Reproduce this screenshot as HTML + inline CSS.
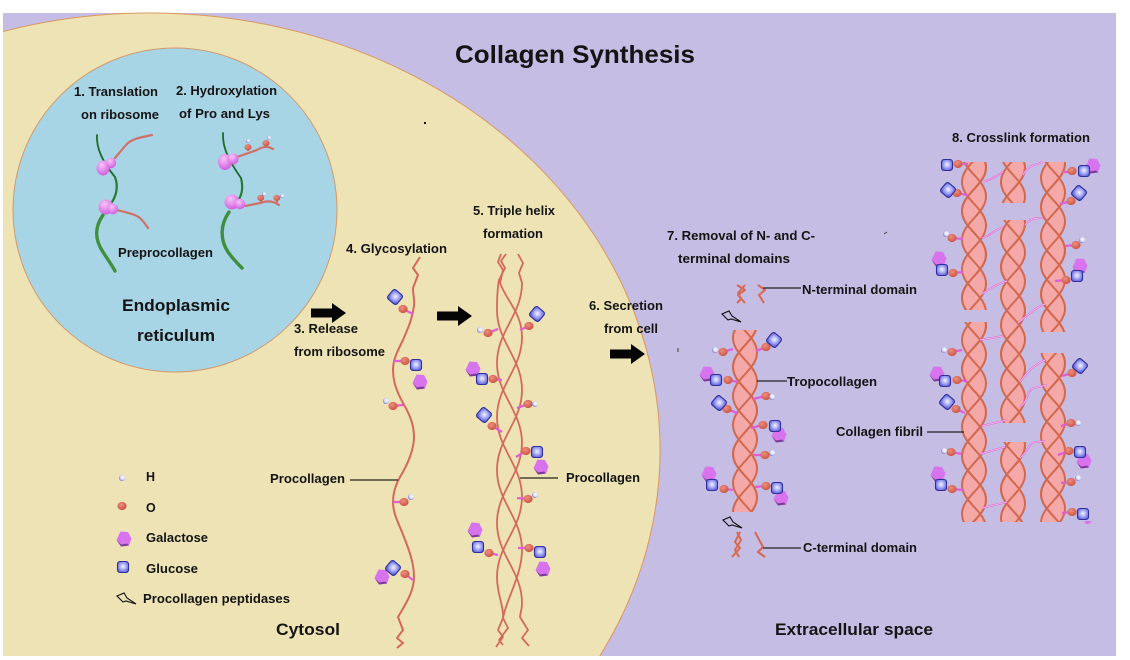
<!DOCTYPE html>
<html><head><meta charset="utf-8"><style>
html,body{margin:0;padding:0;background:#fff;width:1130px;height:660px;overflow:hidden}
svg text{font-family:"Liberation Sans",sans-serif;font-weight:bold;fill:#141414}
</style></head><body>
<svg xmlns="http://www.w3.org/2000/svg" width="1130" height="660" viewBox="0 0 1130 660" style="display:block;filter:blur(.35px)">
<defs>
<radialGradient id="gO" cx=".4" cy=".35" r=".7"><stop offset="0" stop-color="#ee8f80"/><stop offset="1" stop-color="#c9513f"/></radialGradient>
<radialGradient id="gH" cx=".6" cy=".4" r=".6"><stop offset="0" stop-color="#fff"/><stop offset=".6" stop-color="#dcdcf8"/><stop offset="1" stop-color="#7c7cd0"/></radialGradient>
<radialGradient id="gR" cx=".4" cy=".3" r=".8"><stop offset="0" stop-color="#f7c4f7"/><stop offset="1" stop-color="#cc50dc"/></radialGradient>
<radialGradient id="gG" cx=".5" cy=".45" r=".65"><stop offset="0" stop-color="#f5f5ff"/><stop offset=".55" stop-color="#989bf2"/><stop offset="1" stop-color="#4a4ac8"/></radialGradient>
<g id="O"><ellipse rx="4.6" ry="4.1" fill="url(#gO)"/></g>
<g id="H"><circle r="3" fill="url(#gH)"/></g>
<g id="gal"><path d="M-3.5,-7.5 4,-7 7.5,-.5 5,6.5 -3,7.5 -7.5,1z" fill="#d873ee"/><path d="M-7.5,1 -3,7.5 5,6.5 3,4.5 -3,5.5z" fill="#7d3a98"/></g>
<g id="glc"><rect x="-5.5" y="-5.5" width="11" height="11" rx="2.5" fill="url(#gG)" stroke="#30309c" stroke-width="1.1"/></g>
<g id="gld"><rect x="-6" y="-6" width="12" height="12" rx="2.5" fill="url(#gG)" stroke="#30309c" stroke-width="1.1" transform="rotate(40)"/></g>
<path id="st" d="M0,-87c0,17 24,26 24,43.5s-24,26 -24,43.5s24,26 24,43.5s-24,26 -24,43.5s24,26 24,43.5s-24,26 -24,43.5s24,26 24,43.5s-24,26 -24,43.5" fill="none" stroke="#d2684e" stroke-width="2"/>
<pattern id="hp" patternUnits="userSpaceOnUse" x="0" y="0" width="28" height="87">
<g transform="translate(2,0)">
<path d="M6,-14.5q-12,14.5 0,29q-12,14.5 0,29q-12,14.5 0,29q-12,14.5 0,29L18,101.5V87q12,-14.5 0,-29q12,-14.5 0,-29q12,-14.5 0,-29q12,-14.5 0,-29z" fill="#f4a8a8"/>
<use href="#st"/><use href="#st" y="29"/><use href="#st" y="58"/><use href="#st" y="-29"/>
</g>
</pattern>
<g id="pep"><path d="M0,3 7,0 10,5 19,11 9,8 6,9z" fill="none" stroke="#111" stroke-width="1.1"/></g>
<g id="arr"><path d="M0,-4.5H21V-10L35,0 21,10V4.5H0z" fill="#050505"/></g>
<g id="cl" fill="none">
<path d="M983,182C990,180 997,176 1003,172"/>
<path d="M1023,175C1028,165 1035,165 1043,162"/>
<path d="M982,238C990,236 996,229 1003,227"/>
<path d="M1025,225C1030,218 1036,218 1043,218"/>
<path d="M982,294C990,288 998,284 1007,281"/>
<path d="M1018,323C1028,315 1036,307 1045,304"/>
<path d="M980,340L1003,336"/>
<path d="M1020,382C1028,370 1036,364 1045,360"/>
<path d="M1020,407C1028,402 1026,391 1034,388L1047,385"/>
<path d="M982,426L1007,420"/>
<path d="M980,454L1005,447"/>
<path d="M1020,458C1028,452 1028,443 1036,442L1045,441"/>
<path d="M982,508L1007,502"/>
</g>
</defs>

<rect width="1130" height="660" fill="#fff"/>
<rect x="3" y="13" width="1113" height="643" fill="#c5bde3"/>
<path d="M3,31.5A510,437 0 0 1 599.8,656H3z" fill="#ede3b5"/>
<path d="M3,31.5A510,437 0 0 1 599.8,656" fill="none" stroke="#d9975f" stroke-width="1"/>
<circle cx="175" cy="210" r="162" fill="#a8d5e5" stroke="#d19a6a" stroke-width="1"/>

<!-- green strands -->
<g fill="none" stroke="#3f8f3c" stroke-linecap="round">
<path d="M97,135C96,150 105,165 115,177" stroke-width="1.8" stroke="#1f6b2c"/>
<path d="M115,177C119,188 116,197 110,205" stroke-width="2.2" stroke="#2a7a30"/>
<path d="M103,215C94,228 95,240 103,252C108,260 112,265 115,271" stroke-width="3.4"/>
<path d="M223,133C222,150 232,165 241,178" stroke-width="1.8" stroke="#1f6b2c"/>
<path d="M241,178C244,190 241,197 236,204" stroke-width="2.2" stroke="#2a7a30"/>
<path d="M229,212C220,225 220,240 228,252C233,259 238,264 242,268" stroke-width="3.4"/>
</g>
<!-- pink chains ER -->
<g fill="none" stroke="#cf7069" stroke-width="2.2" stroke-linecap="round">
<path d="M115,158C120,152 124,147 128,143C134,138 143,137 152,135"/>
<path d="M117,210C128,213 135,214 140,218C144,222 146,225 148,228"/>
<path d="M237,157L257,150C263,146 268,146 273,149"/>
<path d="M245,206L260,203C266,201 272,200 279,205"/>
<path d="M248,147V150M266,143V147M261,198V203M277,198V202"/>
</g>
<g fill="url(#gR)">
<ellipse cx="103" cy="168" rx="6.5" ry="7.5"/><circle cx="111" cy="163" r="5.2"/>
<circle cx="106" cy="207" r="7.5"/><circle cx="113" cy="209" r="5.2"/>
<ellipse cx="225" cy="162" rx="7" ry="8"/><circle cx="233" cy="159" r="5.5"/>
<circle cx="232" cy="202" r="7.5"/><circle cx="240" cy="204" r="5.2"/>
</g>
<use href="#O" x="248" y="147" transform="translate(62 37) scale(.75)"/>
<use href="#O" x="266" y="143" transform="translate(66.5 36) scale(.75)"/>
<use href="#O" x="261" y="198" transform="translate(65 49.500) scale(.75)"/>
<use href="#O" x="277" y="198" transform="translate(69 49.500) scale(.75)"/>
<g>
<circle cx="248" cy="141" r="2" fill="url(#gH)"/><circle cx="269" cy="138" r="2" fill="url(#gH)"/>
<circle cx="264" cy="194" r="2" fill="url(#gH)"/><circle cx="282" cy="196" r="2" fill="url(#gH)"/>
</g>

<!-- procollagen single -->
<path d="M420,257L413,268 418,275 413,288C413,296 415,300 414,306C412,320 408,328 403,340C397,352 393,360 393,370C393,382 397,392 403,403C410,415 414,425 414,437C414,449 408,464 400,477C396,484 393,493 393,502C393,514 399,524 404,537C409,550 414,563 414,577C414,592 405,605 398,617L403,630 397,638 403,643 397,648" fill="none" stroke="#d4685c" stroke-width="2" stroke-linejoin="round"/>

<!-- triple helix -->
<g fill="none" stroke="#d4685c" stroke-width="1.8" stroke-linejoin="round">
<path d="M518,254L523,263 519,273 522,283C522,315 497,331 497,363C497,395 522,411 522,443C522,475 497,491 497,523C497,555 522,571 522,603C522,610 520,614 520,617L528,630 522,638 529,646"/>
<path d="M506,254L501,261 505,268 499,280C497,290 497,300 497,310C497,342 522,358 522,390C522,422 497,438 497,470C497,502 522,518 522,550C522,575 506,600 503,618L498,630 503,637 496,647"/>
<path d="M501,254L498,262 503,270 500,283C506,300 522,313 522,337C522,369 497,385 497,417C497,449 522,465 522,497C522,529 497,545 497,577C497,595 504,606 503,618L508,628 499,640 503,645"/>
</g>

<!-- fibril & tropocollagen helices -->
<g transform="translate(731,309)"><rect y="21" width="28" height="182" fill="url(#hp)"/></g>
<g transform="translate(960,153)"><rect y="9" width="28" height="148" fill="url(#hp)"/></g>
<g transform="translate(960,311)"><rect y="11" width="28" height="200" fill="url(#hp)"/></g>
<g transform="translate(999,153)"><rect y="9" width="28" height="41" fill="url(#hp)"/></g>
<g transform="translate(999,209)"><rect y="11" width="28" height="203" fill="url(#hp)"/></g>
<g transform="translate(999,431)"><rect y="11" width="28" height="80" fill="url(#hp)"/></g>
<g transform="translate(1039,149)"><rect y="13" width="28" height="170" fill="url(#hp)"/></g>
<g transform="translate(1039,349)"><rect y="4" width="28" height="169" fill="url(#hp)"/></g>

<!-- crosslinks -->
<use href="#cl" stroke="#de62d2" stroke-width="1.8"/>
<use href="#cl" stroke="#f8c4f0" stroke-width=".7"/>

<!-- terminal bits -->
<g fill="none" stroke="#d9684f" stroke-width="2" stroke-linejoin="round">
<path d="M737,285L745,290 738,295 745,303"/><path d="M745,285L738,293 741,299 737,303"/>
<path d="M758,285L765,290 759,295 764,303"/>
<path d="M740,532L735,542 740,548 732,557"/><path d="M737,532L741,540 735,550 739,557"/>
<path d="M755,532L763,547 758,552 765,557"/>
</g>
<use href="#pep" x="722" y="311"/><use href="#pep" x="723" y="517"/><use href="#pep" x="117" y="593"/>

<!-- stems -->
<path d="M413,314L403,309M393,361H405M403,405L393,406M393,502H404M413,580L405,574
M498,329L488,333M520,330L529,326M502,380L493,379M517,408L528,404M502,432L492,426M516,457L526,451M517,498L528,499M498,555L489,553M518,548L529,548
M733,349L723,352M756,351L766,347M738,382L728,380M753,399L766,396M737,413L727,409M751,428L763,425M753,455L765,455M733,490L724,489M755,487L766,486
M968,164H958M967,195L957,193M963,239L952,238M963,272L953,273M1063,172H1072M1060,204L1071,201M1065,246L1076,245M1055,281L1066,280
M962,350L952,352M967,381L957,380M965,413L956,409M962,454L951,452M963,490L952,489M1062,376L1072,373M1061,426L1071,423M1058,455L1069,451M1061,483L1071,482M1062,513L1072,512" fill="none" stroke="#e05ed8" stroke-width="2.3"/>

<!-- molecules -->
<g>
<use href="#O" x="403" y="309"/><use href="#gld" x="395" y="297"/>
<use href="#O" x="405" y="361"/><use href="#gal" x="420" y="382"/><use href="#glc" x="416" y="365"/>
<use href="#O" x="393" y="406"/><use href="#H" x="386" y="401"/>
<use href="#O" x="404" y="502"/><use href="#H" x="411" y="497"/>
<use href="#O" x="405" y="574"/><use href="#gal" x="382" y="577"/><use href="#gld" x="393" y="568"/>

<use href="#O" x="488" y="333"/><use href="#H" x="480" y="330"/>
<use href="#O" x="529" y="326"/><use href="#gld" x="537" y="314"/>
<use href="#O" x="493" y="379"/><use href="#gal" x="473" y="369"/><use href="#glc" x="482" y="379"/>
<use href="#O" x="528" y="404"/><use href="#H" x="535" y="404"/>
<use href="#O" x="492" y="426"/><use href="#gld" x="484" y="415"/>
<use href="#O" x="526" y="451"/><use href="#glc" x="537" y="452"/><use href="#gal" x="541" y="467"/>
<use href="#O" x="528" y="499"/><use href="#H" x="535" y="495"/>
<use href="#O" x="489" y="553"/><use href="#gal" x="475" y="530"/><use href="#glc" x="478" y="547"/>
<use href="#O" x="529" y="548"/><use href="#gal" x="543" y="569"/><use href="#glc" x="540" y="552"/>

<use href="#O" x="723" y="352"/><use href="#H" x="715" y="350"/>
<use href="#O" x="766" y="347"/><use href="#gld" x="774" y="340"/>
<use href="#O" x="728" y="380"/><use href="#gal" x="707" y="374"/><use href="#glc" x="716" y="380"/>
<use href="#O" x="766" y="396"/><use href="#H" x="772" y="397"/>
<use href="#O" x="727" y="409"/><use href="#gld" x="719" y="403"/>
<use href="#O" x="763" y="425"/><use href="#gal" x="779" y="435"/><use href="#glc" x="775" y="426"/>
<use href="#O" x="765" y="455"/><use href="#H" x="772" y="453"/>
<use href="#O" x="724" y="489"/><use href="#gal" x="709" y="474"/><use href="#glc" x="712" y="485"/>
<use href="#O" x="766" y="486"/><use href="#gal" x="781" y="498"/><use href="#glc" x="777" y="488"/>

<use href="#O" x="958" y="164"/><use href="#glc" x="947" y="165"/>
<use href="#O" x="957" y="193"/><use href="#gld" x="948" y="190"/>
<use href="#O" x="952" y="238"/><use href="#H" x="946" y="234"/>
<use href="#O" x="953" y="273"/><use href="#gal" x="939" y="259"/><use href="#glc" x="942" y="270"/>
<use href="#O" x="1072" y="171"/><use href="#gal" x="1093" y="166"/><use href="#glc" x="1084" y="171"/>
<use href="#O" x="1071" y="201"/><use href="#gld" x="1079" y="193"/>
<use href="#O" x="1076" y="245"/><use href="#H" x="1082" y="240"/>
<use href="#O" x="1066" y="280"/><use href="#gal" x="1080" y="266"/><use href="#glc" x="1077" y="276"/>

<use href="#O" x="952" y="352"/><use href="#H" x="944" y="350"/>
<use href="#O" x="957" y="380"/><use href="#gal" x="937" y="374"/><use href="#glc" x="945" y="381"/>
<use href="#O" x="956" y="409"/><use href="#gld" x="947" y="402"/>
<use href="#O" x="951" y="452"/><use href="#H" x="944" y="451"/>
<use href="#O" x="952" y="489"/><use href="#gal" x="938" y="474"/><use href="#glc" x="941" y="485"/>
<use href="#O" x="1072" y="373"/><use href="#gld" x="1080" y="366"/>
<use href="#O" x="1071" y="423"/><use href="#H" x="1078" y="423"/>
<use href="#O" x="1069" y="451"/><use href="#gal" x="1084" y="461"/><use href="#glc" x="1080" y="452"/>
<use href="#O" x="1071" y="482"/><use href="#H" x="1078" y="478"/>
<use href="#O" x="1072" y="512"/><use href="#glc" x="1083" y="514"/>
<path d="M1084,521H1092L1089,524H1086z" fill="#d873ee"/>

<use href="#H" x="122" y="478"/><use href="#O" x="122" y="506"/><use href="#gal" x="124" y="539"/><use href="#glc" x="123" y="567"/>
</g>

<!-- leader lines -->
<path d="M350,480H398M520,478H558M763,288H801M757,381H787M763,548H801M927,432H964" fill="none" stroke="#222" stroke-width="1.2"/>

<use href="#arr" x="311" y="313"/><use href="#arr" x="437" y="316"/><use href="#arr" x="610" y="354"/>
<rect x="424" y="122" width="2" height="2" fill="#111"/>
<path d="M884,234L887,232M678,348V352" stroke="#444" stroke-width="1"/>

<!-- text -->
<g font-size="12.5">
<text x="74" y="96" textLength="84" lengthAdjust="spacingAndGlyphs">1. Translation</text>
<text x="81" y="119" textLength="78" lengthAdjust="spacingAndGlyphs">on ribosome</text>
<text x="176" y="95" textLength="101" lengthAdjust="spacingAndGlyphs">2. Hydroxylation</text>
<text x="179" y="118" textLength="91" lengthAdjust="spacingAndGlyphs">of Pro and Lys</text>
<text x="118" y="257" textLength="95" lengthAdjust="spacingAndGlyphs">Preprocollagen</text>
<text x="294" y="333" textLength="64" lengthAdjust="spacingAndGlyphs">3. Release</text>
<text x="294" y="356" textLength="91" lengthAdjust="spacingAndGlyphs">from ribosome</text>
<text x="346" y="253" textLength="101" lengthAdjust="spacingAndGlyphs">4. Glycosylation</text>
<text x="473" y="215" textLength="82" lengthAdjust="spacingAndGlyphs">5. Triple helix</text>
<text x="483" y="238" textLength="60" lengthAdjust="spacingAndGlyphs">formation</text>
<text x="589" y="310" textLength="74" lengthAdjust="spacingAndGlyphs">6. Secretion</text>
<text x="604" y="333" textLength="54" lengthAdjust="spacingAndGlyphs">from cell</text>
<text x="667" y="240" textLength="148" lengthAdjust="spacingAndGlyphs">7. Removal of N- and C-</text>
<text x="678" y="263" textLength="112" lengthAdjust="spacingAndGlyphs">terminal domains</text>
<text x="802" y="294" textLength="115" lengthAdjust="spacingAndGlyphs">N-terminal domain</text>
<text x="787" y="386" textLength="90" lengthAdjust="spacingAndGlyphs">Tropocollagen</text>
<text x="803" y="552" textLength="114" lengthAdjust="spacingAndGlyphs">C-terminal domain</text>
<text x="952" y="142" textLength="138" lengthAdjust="spacingAndGlyphs">8. Crosslink formation</text>
<text x="836" y="436" textLength="87" lengthAdjust="spacingAndGlyphs">Collagen fibril</text>
<text x="270" y="483" textLength="75" lengthAdjust="spacingAndGlyphs">Procollagen</text>
<text x="566" y="482" textLength="74" lengthAdjust="spacingAndGlyphs">Procollagen</text>
<text x="146" y="481">H</text>
<text x="146" y="512">O</text>
<text x="146" y="542" textLength="62" lengthAdjust="spacingAndGlyphs">Galactose</text>
<text x="146" y="573" textLength="52" lengthAdjust="spacingAndGlyphs">Glucose</text>
<text x="143" y="603" textLength="147" lengthAdjust="spacingAndGlyphs">Procollagen peptidases</text>
</g>
<g font-size="16.5">
<text x="122" y="311" textLength="108" lengthAdjust="spacingAndGlyphs">Endoplasmic</text>
<text x="137" y="341" textLength="78" lengthAdjust="spacingAndGlyphs">reticulum</text>
<text x="276" y="635" textLength="64" lengthAdjust="spacingAndGlyphs">Cytosol</text>
<text x="775" y="635" textLength="158" lengthAdjust="spacingAndGlyphs">Extracellular space</text>
</g>
<text x="455" y="63" font-size="25" textLength="240" lengthAdjust="spacingAndGlyphs">Collagen Synthesis</text>
</svg>
</body></html>
